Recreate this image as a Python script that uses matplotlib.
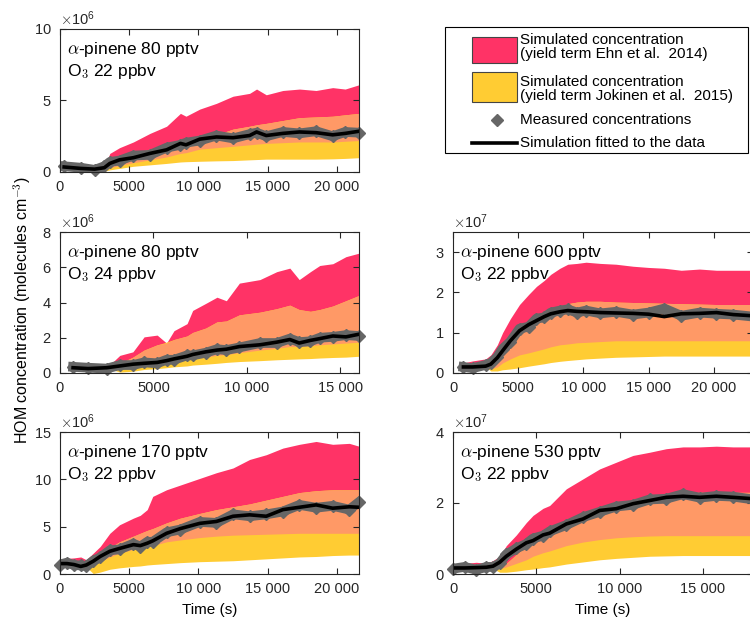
import numpy as np
import matplotlib
matplotlib.use('Agg')
import matplotlib.pyplot as plt
from matplotlib.patches import Rectangle
from matplotlib.lines import Line2D

plt.rcParams['font.family'] = ['Liberation Sans', 'DejaVu Sans']
plt.rcParams['mathtext.fontset'] = 'cm'

# colours
RED = '#FF3366'
ORANGE = '#FF9966'
YELLOW = '#FFCC33'
GRAY = '#666666'
AXCOL = '#262626'

# ---- panel 1: a-pinene 80 pptv, O3 22 ppbv (x1e6) ----
t1 = [300, 1500, 2500, 3200, 3600, 4300, 5300, 6500, 7700, 8700, 9100, 10100,
      11300, 12500, 13700, 14200, 14900, 16100, 17300, 18500, 19700, 20600, 21600]
ehn_hi1 = [0.3, 0.2, 0.15, 0.3, 1.3, 1.7, 2.1, 2.7, 3.2, 4.1, 3.9, 4.4,
           4.8, 5.3, 5.5, 5.8, 5.4, 5.7, 5.8, 5.7, 5.9, 5.8, 6.1]
ehn_lo1 = [0.3, 0.2, 0.15, 0.2, 0.3, 0.45, 0.65, 0.85, 1.05, 1.3, 1.35, 1.6,
           1.7, 1.8, 1.9, 1.95, 2.0, 2.05, 2.1, 2.1, 2.1, 2.15, 2.2]
jok_hi1 = [0.3, 0.2, 0.15, 0.25, 0.6, 0.95, 1.3, 1.6, 1.8, 2.0, 2.05, 2.3,
           2.6, 3.0, 3.2, 3.3, 3.4, 3.6, 3.8, 3.85, 3.9, 4.0, 4.1]
jok_lo1 = [0.3, 0.2, 0.15, 0.05, 0.15, 0.25, 0.4, 0.5, 0.6, 0.7, 0.72, 0.75,
           0.78, 0.8, 0.85, 0.87, 0.9, 0.9, 0.9, 0.9, 0.92, 0.95, 1.0]
meas1 = [0.4, 0.3, 0.15, 0.4, 0.7, 0.8, 1.15, 1.2, 1.7, 1.9, 2.05, 2.2,
         2.55, 2.35, 2.65, 2.75, 2.5, 2.8, 2.7, 2.85, 2.5, 2.8, 2.75]
fit1 = [0.35, 0.25, 0.2, 0.3, 0.6, 0.85, 1.0, 1.3, 1.55, 2.0, 1.9, 2.3,
        2.45, 2.4, 2.55, 2.8, 2.55, 2.7, 2.8, 2.75, 2.6, 2.7, 2.85]

# ---- panel 2: a-pinene 80 pptv, O3 24 ppbv (x1e6) ----
t2 = [700, 1500, 2500, 3200, 3900, 4500, 5200, 5700, 6100, 6800, 7100, 7800,
      8400, 8900, 9600, 10700, 11600, 12300, 12800, 13400, 13900, 14600, 15300, 16000]
ehn_hi2 = [0.3, 0.5, 0.3, 1.0, 1.2, 2.05, 2.15, 1.7, 2.4, 2.8, 3.55, 3.95,
           4.3, 4.1, 5.1, 5.3, 5.75, 5.95, 5.3, 5.75, 6.1, 6.2, 6.6, 6.8]
ehn_lo2 = [0.3, 0.25, 0.3, 0.35, 0.4, 0.5, 0.55, 0.6, 0.65, 0.75, 0.8, 0.9,
           1.0, 1.05, 1.15, 1.3, 1.4, 1.5, 1.5, 1.55, 1.6, 1.65, 1.7, 1.75]
jok_hi2 = [0.3, 0.25, 0.3, 0.55, 0.9, 1.3, 1.6, 1.75, 1.9, 2.1, 2.3, 2.55,
           2.9, 2.95, 3.3, 3.45, 3.65, 3.85, 3.6, 3.5, 3.6, 3.8, 4.1, 4.4]
jok_lo2 = [0.3, 0.25, 0.3, 0.05, 0.1, 0.2, 0.25, 0.3, 0.35, 0.4, 0.45, 0.5,
           0.55, 0.6, 0.65, 0.7, 0.75, 0.78, 0.8, 0.82, 0.85, 0.88, 0.9, 0.95]
meas2 = [0.35, 0.3, 0.25, 0.45, 0.45, 0.6, 0.55, 0.75, 0.75, 1.0, 1.0, 1.15,
         1.35, 1.3, 1.45, 1.7, 1.7, 1.95, 1.75, 1.8, 2.0, 2.05, 2.15, 2.1]
fit2 = [0.3, 0.25, 0.3, 0.4, 0.5, 0.55, 0.6, 0.7, 0.8, 0.95, 1.05, 1.2,
        1.3, 1.35, 1.5, 1.6, 1.75, 1.9, 1.7, 1.85, 1.95, 2.1, 2.05, 2.2]

# ---- panel 3: a-pinene 600 pptv, O3 22 ppbv (x1e7) ----
t3 = [800, 1500, 2500, 2900, 3400, 3800, 4400, 5100, 5800, 6400, 7000, 7500, 8200,
      8800, 9500, 10200, 11300, 12500, 13800, 15000, 16200, 17500, 18900, 20200, 21500, 23000]
ehn_hi3 = [0.25, 0.3, 0.35, 0.45, 0.7, 1.0, 1.35, 1.7, 1.95, 2.15, 2.3, 2.45, 2.6,
           2.7, 2.72, 2.75, 2.72, 2.7, 2.65, 2.62, 2.6, 2.55, 2.58, 2.55, 2.55, 2.55]
ehn_lo3 = [0.15, 0.15, 0.15, 0.1, 0.15, 0.25, 0.35, 0.45, 0.5, 0.55, 0.6, 0.65, 0.7,
           0.72, 0.75, 0.76, 0.78, 0.8, 0.8, 0.8, 0.8, 0.8, 0.8, 0.8, 0.8, 0.8]
jok_hi3 = [0.15, 0.15, 0.15, 0.2, 0.35, 0.5, 0.7, 0.95, 1.15, 1.3, 1.45, 1.55, 1.65,
           1.72, 1.76, 1.78, 1.78, 1.76, 1.75, 1.74, 1.73, 1.72, 1.71, 1.7, 1.7, 1.7]
jok_lo3 = [0.15, 0.15, 0.15, 0.05, 0.05, 0.08, 0.1, 0.13, 0.17, 0.2, 0.23, 0.26, 0.29,
           0.31, 0.33, 0.35, 0.37, 0.39, 0.4, 0.41, 0.42, 0.42, 0.42, 0.42, 0.42, 0.42]
meas3 = [0.15, 0.12, 0.2, 0.25, 0.4, 0.6, 0.78, 1.1, 1.15, 1.35, 1.38, 1.5, 1.55,
         1.58, 1.5, 1.55, 1.48, 1.52, 1.45, 1.5, 1.6, 1.42, 1.5, 1.47, 1.45, 1.4]
fit3 = [0.15, 0.15, 0.17, 0.22, 0.38, 0.55, 0.8, 1.05, 1.2, 1.3, 1.4, 1.47, 1.52,
        1.55, 1.53, 1.52, 1.5, 1.49, 1.48, 1.46, 1.4, 1.47, 1.48, 1.5, 1.45, 1.42]

# ---- panel 4: a-pinene 170 pptv, O3 22 ppbv (x1e6) ----
t4 = [0, 500, 1000, 1500, 1900, 2400, 2900, 3600, 4300, 5300, 5800, 6300, 6700,
      7700, 8700, 10100, 11300, 12500, 13700, 14900, 16100, 17300, 18500, 19700, 20900, 21600]
ehn_hi4 = [1.1, 1.65, 1.7, 1.8, 1.5, 2.2, 2.9, 4.3, 5.2, 5.9, 6.2, 6.8, 8.2,
           8.9, 9.4, 10.1, 10.7, 11.2, 12.1, 12.6, 13.3, 13.7, 14.0, 13.7, 13.8, 13.5]
ehn_lo4 = [1.0, 1.0, 0.9, 0.8, 0.75, 0.9, 1.3, 1.8, 2.2, 2.6, 2.8, 2.9, 3.0,
           3.4, 3.6, 3.85, 4.0, 4.1, 4.15, 4.2, 4.25, 4.3, 4.3, 4.3, 4.3, 4.3]
jok_hi4 = [1.0, 1.0, 0.9, 0.8, 0.75, 1.2, 2.0, 2.8, 3.4, 4.0, 4.3, 4.6, 4.8,
           5.4, 5.9, 6.4, 6.8, 7.1, 7.4, 7.8, 8.2, 8.6, 8.8, 8.9, 8.9, 8.9]
jok_lo4 = [1.0, 1.0, 0.9, 0.8, 0.75, 0.05, 0.2, 0.5, 0.65, 0.8, 0.85, 0.95, 1.0,
           1.1, 1.2, 1.3, 1.35, 1.4, 1.5, 1.6, 1.7, 1.8, 1.85, 1.95, 2.0, 2.0]
meas4 = [1.0, 1.2, 0.95, 0.9, 0.85, 1.4, 1.75, 2.5, 2.6, 3.2, 2.9, 3.4, 3.4,
         4.4, 4.7, 5.5, 5.4, 6.3, 6.1, 6.3, 6.6, 7.3, 7.0, 7.2, 6.8, 7.6]
fit4 = [1.1, 1.1, 1.0, 0.8, 0.95, 1.35, 1.85, 2.4, 2.7, 3.1, 3.0, 3.25, 3.5,
        4.3, 4.8, 5.35, 5.55, 6.1, 6.25, 6.1, 6.8, 7.05, 7.3, 6.95, 7.1, 7.05]

# ---- panel 5: a-pinene 530 pptv, O3 22 ppbv (x1e7) ----
t5 = [0, 700, 1400, 2000, 2400, 2800, 3200, 3800, 4400, 4800, 5400, 5800,
      6800, 7800, 8800, 9800, 10800, 11800, 12800, 13800, 14800, 15800, 16800, 18000]
ehn_hi5 = [0.28, 0.3, 0.33, 0.3, 0.38, 0.5, 0.8, 1.1, 1.45, 1.65, 1.85, 1.93,
           2.4, 2.68, 2.96, 3.15, 3.34, 3.43, 3.53, 3.58, 3.58, 3.6, 3.58, 3.58]
ehn_lo5 = [0.15, 0.15, 0.15, 0.15, 0.15, 0.15, 0.2, 0.3, 0.4, 0.5, 0.6, 0.65,
           0.8, 0.9, 0.97, 1.02, 1.05, 1.07, 1.08, 1.08, 1.08, 1.08, 1.08, 1.08]
jok_hi5 = [0.15, 0.15, 0.15, 0.15, 0.15, 0.15, 0.3, 0.55, 0.78, 0.92, 1.1, 1.2,
           1.46, 1.65, 1.83, 1.95, 2.07, 2.17, 2.24, 2.28, 2.3, 2.3, 2.3, 2.3]
jok_lo5 = [0.15, 0.15, 0.15, 0.15, 0.15, 0.05, 0.05, 0.08, 0.12, 0.14, 0.18, 0.2,
           0.28, 0.34, 0.4, 0.44, 0.47, 0.5, 0.51, 0.52, 0.52, 0.52, 0.52, 0.52]
meas5 = [0.15, 0.2, 0.12, 0.2, 0.2, 0.3, 0.55, 0.72, 0.85, 1.0, 1.08, 1.2,
         1.38, 1.6, 1.75, 1.9, 1.95, 2.1, 2.12, 2.25, 2.15, 2.2, 2.18, 2.1]
fit5 = [0.17, 0.17, 0.18, 0.19, 0.22, 0.33, 0.5, 0.7, 0.88, 0.94, 1.1, 1.15,
        1.41, 1.55, 1.79, 1.84, 1.98, 2.07, 2.16, 2.19, 2.16, 2.19, 2.16, 2.12]

# axis setup
xmax = [21600, 16000, 23000, 21600, 18000]
ymax = [10, 8, 3.5, 15, 4]
yticks = [[0, 5, 10], [0, 2, 4, 6, 8], [0, 1, 2, 3], [0, 5, 10, 15], [0, 2, 4]]
exponent = [6, 6, 7, 6, 7]
xticks = [[0, 5000, 10000, 15000, 20000], [0, 5000, 10000, 15000],
          [0, 5000, 10000, 15000, 20000], [0, 5000, 10000, 15000, 20000],
          [0, 5000, 10000, 15000]]
xtick_labels = ['0', '5000', '10 000', '15 000', '20 000']
pinene = ['80', '80', '600', '170', '530']
ozone = ['22', '24', '22', '22', '22']

legend_labels = [
    ['Simulated concentration', '(yield term Ehn et al.  2014)'],
    ['Simulated concentration', '(yield term Jokinen et al.  2015)'],
    ['Measured concentrations'],
    ['Simulation fitted to the data'],
]

# axes positions in pixels (left, top, width, height) of a 750x620 figure
boxes = [(60, 29, 299, 143), (60, 232, 299, 141), (453, 232, 300, 141),
         (60, 432, 299, 142), (453, 432, 300, 142)]

panels = [
    (t1, ehn_lo1, ehn_hi1, jok_lo1, jok_hi1, meas1, fit1),
    (t2, ehn_lo2, ehn_hi2, jok_lo2, jok_hi2, meas2, fit2),
    (t3, ehn_lo3, ehn_hi3, jok_lo3, jok_hi3, meas3, fit3),
    (t4, ehn_lo4, ehn_hi4, jok_lo4, jok_hi4, meas4, fit4),
    (t5, ehn_lo5, ehn_hi5, jok_lo5, jok_hi5, meas5, fit5),
]

W, H = 750, 620
fig = plt.figure(figsize=(7.5, 6.2), dpi=100)


def fx(x):
    return x / W


def fy(y):
    return 1 - y / H


for i, (t, elo, ehi, jlo, jhi, meas, fit) in enumerate(panels):
    l, top, w, h = boxes[i]
    ax = fig.add_axes([fx(l), fy(top + h), w / W, h / H])
    s = 10.0 ** exponent[i]
    t = np.array(t)
    elo = np.array(elo) * s
    ehi = np.array(ehi) * s
    jlo = np.array(jlo) * s
    jhi = np.array(jhi) * s

    # Ehn et al. band, Jokinen et al. band, and their overlap
    ax.fill_between(t, elo, ehi, color=RED, lw=0)
    ax.fill_between(t, jlo, jhi, color=YELLOW, lw=0)
    over = np.minimum(ehi, jhi)
    ax.fill_between(t, elo, over, where=over > elo, interpolate=True, color=ORANGE, lw=0)

    # measured points and fitted simulation
    m = np.array(meas) * s
    ax.plot(t, m, color=GRAY, lw=7, solid_joinstyle='round')
    ax.plot(t, m, 'D', ms=6.5, color=GRAY, clip_on=False)
    ax.plot(t, np.array(fit) * s, color='black', lw=2.6)

    ax.set_xlim(0, xmax[i])
    ax.set_ylim(0, ymax[i] * s)
    ax.set_yticks(np.array(yticks[i]) * s)
    ax.ticklabel_format(axis='y', style='sci', scilimits=(exponent[i], exponent[i]),
                        useMathText=True)
    ax.set_xticks(xticks[i])
    ax.set_xticklabels(xtick_labels[:len(xticks[i])])

    ax.tick_params(direction='in', length=4, width=0.8, top=True, right=True,
                   labelsize=10.5, colors=AXCOL, pad=6)
    for sp in ax.spines.values():
        sp.set_color(AXCOL)
        sp.set_linewidth(0.8)
    ax.yaxis.get_offset_text().set_fontsize(10.5)
    ax.yaxis.get_offset_text().set_color(AXCOL)

    ax.text(0.025, 0.855, r'$\alpha$-pinene ' + pinene[i] + ' pptv', transform=ax.transAxes,
            fontsize=12.5, va='center', ha='left')
    ax.text(0.025, 0.70, r'O$_{\mathsf{3}}$ ' + ozone[i] + ' ppbv', transform=ax.transAxes,
            fontsize=12.5, va='center', ha='left')

    if i >= 3:
        ax.set_xlabel('Time (s)', fontsize=11, labelpad=5)

fig.text(fx(22), 0.5, r'HOM concentration (molecules cm$^{\mathsf{-3}}$)', rotation=90,
         ha='center', va='center', fontsize=11.5)

# legend box drawn by hand to follow the original layout
fig.add_artist(Rectangle((fx(445), fy(153)), 303 / W, 126 / H, transform=fig.transFigure,
                         facecolor='white', edgecolor='black', lw=0.8))
fig.add_artist(Rectangle((fx(472), fy(63)), 45 / W, 26 / H, transform=fig.transFigure,
                         facecolor=RED, edgecolor='#444444', lw=0.8))
fig.add_artist(Rectangle((fx(472), fy(102)), 45 / W, 30 / H, transform=fig.transFigure,
                         facecolor=YELLOW, edgecolor='#444444', lw=0.8))
fig.add_artist(Line2D([fx(497)], [fy(120)], marker='D', ls='none', color=GRAY, ms=6,
                      transform=fig.transFigure))
fig.add_artist(Line2D([fx(472), fx(517)], [fy(143), fy(143)], color='black', lw=2.6,
                      transform=fig.transFigure))
text_rows = [[40, 54], [82, 96], [120], [143]]
for rows, lines in zip(text_rows, legend_labels):
    for y, line in zip(rows, lines):
        fig.text(fx(520), fy(y), line, fontsize=11, ha='left', va='center')

fig.savefig('out.png', dpi=100)
